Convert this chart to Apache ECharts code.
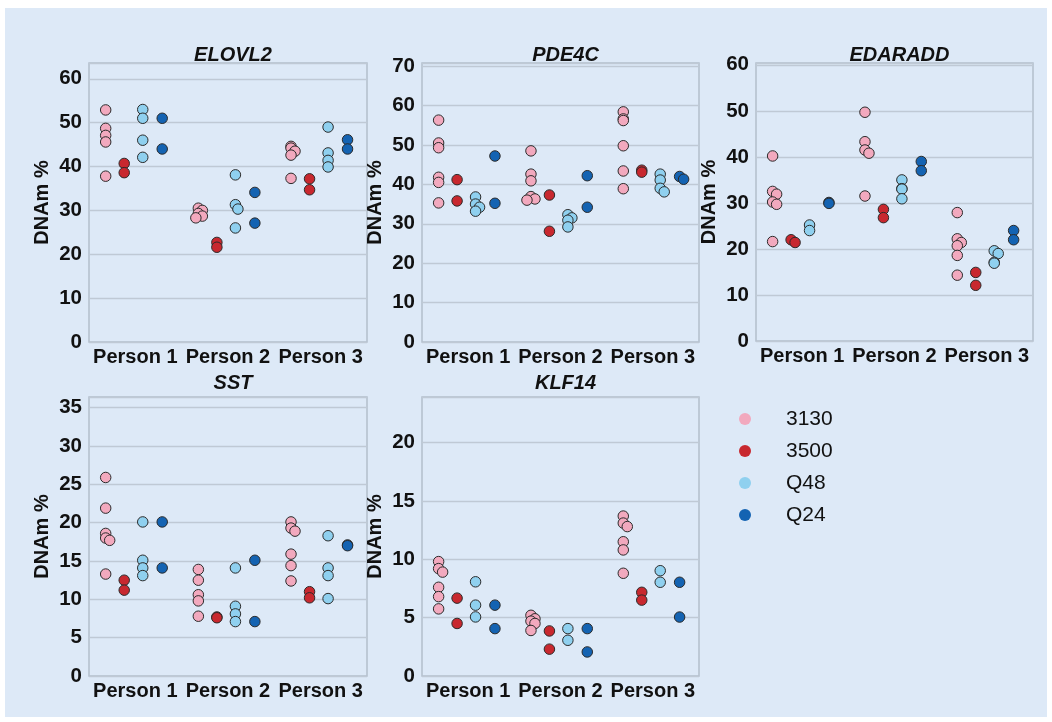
<!DOCTYPE html>
<html><head><meta charset="utf-8">
<script src="https://cdn.jsdelivr.net/npm/echarts@6/dist/echarts.min.js"></script>
<style>
html,body{margin:0;padding:0;background:#ffffff}
#bg{position:absolute;left:5px;top:8px;width:1042px;height:709px;background:#dde9f7}
#c{position:absolute;left:0;top:0;width:1052px;height:722px}
</style>
</head><body><div id="bg"></div><div id="c"></div><script>
const persons = ['Person 1', 'Person 2', 'Person 3'];
const groups = ['3130', '3500', 'Q48', 'Q24'];
const genes = ['ELOVL2', 'PDE4C', 'EDARADD', 'SST', 'KLF14'];
const yMax = [63.6, 70.8, 60.4, 36.4, 23.9];
const yInterval = [10, 10, 10, 5, 5];

// values per person: [Person 1, Person 2, Person 3]
const ELOVL2_3130 = [[52.9, 48.7, 47.1, 45.6, 37.8], [30.5, 30.0, 29.3, 28.7, 28.3], [44.6, 44.2, 43.5, 42.6, 37.3]];
const ELOVL2_3500 = [[40.7, 38.6], [22.7, 21.6], [37.2, 34.7]];
const ELOVL2_Q48  = [[53.0, 51.0, 46.0, 42.1], [38.1, 31.3, 30.3, 26.0], [49.0, 43.1, 41.4, 39.9]];
const ELOVL2_Q24  = [[51.0, 44.0], [34.1, 27.1], [46.1, 44.0]];

const PDE4C_3130 = [[56.3, 50.5, 49.3, 41.8, 40.5, 35.3], [48.5, 42.6, 40.9, 36.9, 36.3, 36.0], [58.4, 56.6, 56.2, 49.8, 43.4, 38.9]];
const PDE4C_3500 = [[41.2, 35.8], [37.3, 28.1], [43.6, 43.1]];
const PDE4C_Q48  = [[36.8, 35.0, 34.2, 33.2], [32.3, 31.5, 30.9, 29.2], [42.6, 41.1, 39.0, 38.1]];
const PDE4C_Q24  = [[47.2, 35.2], [42.2, 34.2], [42.0, 41.3]];

const EDARADD_3130 = [[40.2, 32.5, 31.9, 30.2, 29.7, 21.6], [49.7, 43.3, 41.5, 40.8, 31.5], [27.9, 22.2, 21.4, 20.7, 18.6, 14.3]];
const EDARADD_3500 = [[22.0, 21.4], [28.6, 26.8], [14.9, 12.1]];
const EDARADD_Q48  = [[25.2, 24.0], [35.0, 33.1, 33.0, 30.9], [19.6, 19.0, 17.1, 16.9]];
const EDARADD_Q24  = [[30.1, 29.9], [39.0, 37.0], [24.0, 22.0]];

const SST_3130 = [[25.9, 21.9, 18.6, 18.0, 17.7, 13.3], [13.9, 12.5, 10.6, 9.8, 7.8], [20.1, 19.3, 18.9, 15.9, 14.4, 12.4]];
const SST_3500 = [[12.5, 11.2], [7.7, 7.6], [11.0, 10.2]];
const SST_Q48  = [[20.1, 15.1, 14.1, 13.1], [14.1, 9.1, 8.1, 7.1], [18.3, 14.1, 13.1, 10.1]];
const SST_Q24  = [[20.1, 14.1], [15.1, 7.1], [17.1, 17.0]];

const KLF14_3130 = [[9.8, 9.2, 8.9, 7.6, 6.8, 5.75], [5.2, 4.9, 4.7, 4.5, 3.9], [13.7, 13.1, 12.8, 11.5, 10.8, 8.8]];
const KLF14_3500 = [[6.67, 4.5], [3.86, 2.3], [7.17, 6.5]];
const KLF14_Q48  = [[8.07, 6.07, 5.06], [4.06, 3.06], [9.02, 8.03]];
const KLF14_Q24  = [[6.07, 4.06], [4.06, 2.06], [8.03, 5.05]];

const geneData = [
  [ELOVL2_3130, ELOVL2_3500, ELOVL2_Q48, ELOVL2_Q24],
  [PDE4C_3130, PDE4C_3500, PDE4C_Q48, PDE4C_Q24],
  [EDARADD_3130, EDARADD_3500, EDARADD_Q48, EDARADD_Q24],
  [SST_3130, SST_3500, SST_Q48, SST_Q24],
  [KLF14_3130, KLF14_3500, KLF14_Q48, KLF14_Q24]
];

// ---- layout / style ----
const FONT = "'Liberation Sans', Arial, Helvetica, sans-serif";
const grids = [
  {left: 89, top: 63, width: 278, height: 279},
  {left: 422, top: 63, width: 277, height: 279},
  {left: 756, top: 63, width: 277, height: 278},
  {left: 89, top: 397, width: 278, height: 279},
  {left: 422, top: 397, width: 277, height: 279}
];
const titleCenterY = [50, 50, 50, 378, 378];
const colors = ['#f2a9be', '#c8282f', '#8fd0ef', '#1463b2'];
const groupOffset = [0.18, 0.38, 0.58, 0.79];

function swarm(vals, gi, p, k) {
  const g = grids[gi];
  const pyu = g.height / yMax[gi];
  const pxu = g.width / 3;
  const sorted = vals.slice().sort((a, b) => b - a);
  const placed = [];
  const out = [];
  const cands = [0, 2.5, -2.5, 4, -4];
  sorted.forEach(v => {
    const y = v * pyu;
    let chosen = 0;
    for (const c of cands) {
      let ok = true;
      for (const q of placed) {
        const dx = c - q[0], dy = y - q[1];
        if (Math.sqrt(dx * dx + dy * dy) < 4.5) { ok = false; break; }
      }
      if (ok) { chosen = c; break; }
    }
    placed.push([chosen, y]);
    out.push([p + groupOffset[k] + chosen / pxu, v]);
  });
  return out;
}

const option = {
  backgroundColor: 'transparent',
  animation: false,
  textStyle: {fontFamily: FONT},
  title: genes.map((gname, i) => ({
    text: gname,
    left: grids[i].left + grids[i].width / 2,
    top: titleCenterY[i],
    textAlign: 'center',
    textVerticalAlign: 'middle',
    textStyle: {fontFamily: FONT, fontSize: 20, fontWeight: 'bold', fontStyle: 'italic', color: '#111'}
  })),
  legend: {
    data: groups,
    orient: 'vertical',
    left: 734,
    top: 403,
    icon: 'circle',
    itemWidth: 12,
    itemHeight: 12,
    itemGap: 10,
    itemStyle: {borderWidth: 0},
    textStyle: {fontFamily: FONT, fontSize: 21, color: '#111', lineHeight: 22, padding: [0, 0, 0, 30]}
  },
  grid: grids.map(g => Object.assign({show: true, borderColor: '#b3bfcc', borderWidth: 1.5, backgroundColor: 'transparent'}, g)),
  xAxis: genes.map((_, i) => ({
    type: 'value', gridIndex: i, min: 0, max: 3, interval: 0.5,
    axisLine: {show: false}, axisTick: {show: false}, splitLine: {show: false},
    axisLabel: {
      margin: 5,
      fontFamily: FONT, fontSize: 20, fontWeight: 'bold', color: '#111',
      formatter: v => {
        const f = v - Math.floor(v);
        return Math.abs(f - 0.5) < 1e-6 ? persons[Math.floor(v)] : '';
      }
    }
  })),
  yAxis: genes.map((_, i) => ({
    type: 'value', gridIndex: i, min: 0, max: yMax[i], interval: yInterval[i],
    name: 'DNAm %', nameLocation: 'middle', nameGap: 37, nameRotate: 90,
    nameTextStyle: {fontFamily: FONT, fontSize: 20, fontWeight: 'bold', color: '#111'},
    axisLine: {show: false}, axisTick: {show: false},
    splitLine: {show: true, lineStyle: {color: '#bfc9d5', width: 1.3}},
    axisLabel: {margin: 7, showMaxLabel: false, fontFamily: FONT, fontSize: 20.5, fontWeight: 'bold', color: '#111'}
  })),
  series: []
};

genes.forEach((gname, gi) => {
  groups.forEach((grp, k) => {
    let pts = [];
    geneData[gi][k].forEach((vals, p) => { pts = pts.concat(swarm(vals, gi, p, k)); });
    option.series.push({
      name: grp, type: 'scatter', xAxisIndex: gi, yAxisIndex: gi,
      symbol: 'circle', symbolSize: 10.5,
      itemStyle: {color: colors[k], borderColor: '#2a2a2a', borderWidth: 1, opacity: 1},
      data: pts
    });
  });
});

const chart = echarts.init(document.getElementById('c'), null, {renderer: 'canvas'});
chart.setOption(option);
</script></body></html>
